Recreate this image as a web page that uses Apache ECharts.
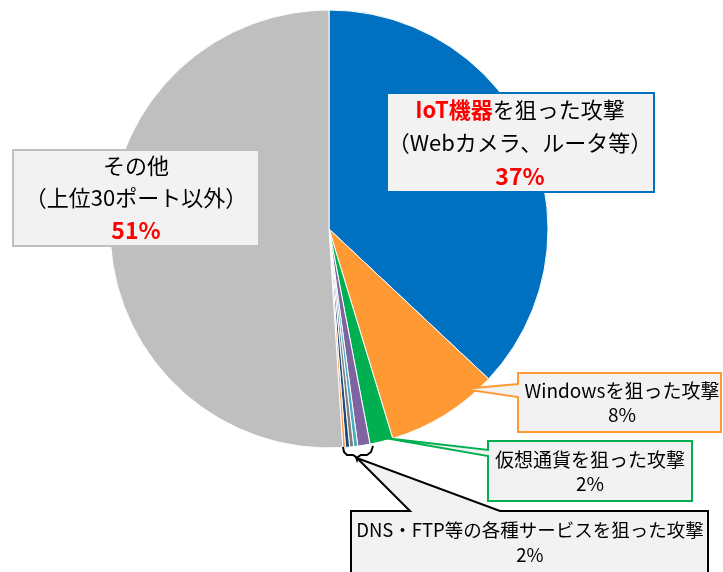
<!DOCTYPE html>
<html>
<head>
<meta charset="utf-8">
<script src="https://cdn.jsdelivr.net/npm/echarts@6/dist/echarts.min.js"></script>
<style>
html,body{margin:0;padding:0;background:#fff;}
#chart{width:723px;height:572px;}
</style>
</head>
<body>
<div id="chart"></div>
<script>
// ---- data ----
var categories = ['IoT機器を狙った攻撃', 'Windowsを狙った攻撃', '仮想通貨を狙った攻撃', 'サービスA', 'サービスB', 'サービスC', 'サービスD', 'サービスE', 'その他'];
var values = [37.0, 8.3, 1.7, 0.9, 0.3, 0.3, 0.3, 0.2, 51.0];
var colors = ['#0070C0', '#FF9933', '#00B050', '#8064A2', '#4BACC6', '#7F7F7F', '#1F497D', '#F79646', '#BFBFBF'];
var pctLabels = ['37%', '8%', '2%', '2%', '51%'];

var FONT = '"Noto Sans CJK JP", "Noto Sans", sans-serif';
var chart = echarts.init(document.getElementById('chart'));

var pieData = categories.map(function (c, i) {
  return { name: c, value: values[i], itemStyle: { color: colors[i] } };
});

function box(points, stroke) {
  return { type: 'polygon', z: 10, shape: { points: points },
    style: { fill: '#F2F2F2', stroke: stroke, lineWidth: 2 } };
}
function txt(x, y, text, rich) {
  return { type: 'text', z: 11, x: x, y: y,
    style: { text: text, align: 'center', verticalAlign: 'middle', fontFamily: FONT, fontSize: 18, fill: '#000', rich: rich, lineHeight: 24 } };
}

var graphics = [
  // IoT box
  box([[387,93],[654,93],[654,192],[387,192]], '#0070C0'),
  txt(520, 143, '{r|IoT機器}{b|を狙った攻撃}\n{b|（Webカメラ、ルータ等）}\n{p|' + pctLabels[0] + '}', {
    r: { fontFamily: FONT, fontSize: 22, fontWeight: 'bold', fill: '#FF0000', lineHeight: 33 },
    b: { fontFamily: FONT, fontSize: 22, fill: '#000', lineHeight: 33 },
    p: { fontFamily: FONT, fontSize: 23, fontWeight: 'bold', fill: '#FF0000', lineHeight: 33 }
  }),
  // Others box
  box([[13,150],[259,150],[259,246],[13,246]], '#BFBFBF'),
  txt(136, 198, '{b|その他}\n{b|（上位30ポート以外）}\n{p|' + pctLabels[4] + '}', {
    b: { fontFamily: FONT, fontSize: 22, fill: '#000', lineHeight: 32 },
    p: { fontFamily: FONT, fontSize: 23, fontWeight: 'bold', fill: '#FF0000', lineHeight: 32 }
  }),
  // Windows box
  box([[518,373],[721,373],[721,432],[518,432],[518,397],[463,389],[518,384]], '#FF9933'),
  txt(622, 403, '{b|Windowsを狙った攻撃}\n{b|' + pctLabels[1] + '}', {
    b: { fontFamily: FONT, fontSize: 19, fill: '#000', lineHeight: 24 }
  }),
  // Crypto box
  box([[488,441],[692,441],[692,501],[488,501],[488,456],[385,438],[488,450]], '#00B050'),
  txt(590, 472, '{b|仮想通貨を狙った攻撃}\n{b|' + pctLabels[2] + '}', {
    b: { fontFamily: FONT, fontSize: 19, fill: '#000', lineHeight: 24 }
  }),
  // DNS box
  box([[351,511],[410,511],[357,458],[500,511],[708,511],[708,574],[351,574]], '#000000'),
  txt(530, 542, '{b|DNS・FTP等の各種サービスを狙った攻撃}\n{b|' + pctLabels[3] + '}', {
    b: { fontFamily: FONT, fontSize: 18.5, fill: '#000', lineHeight: 25 }
  }),
  // brace
  { type: 'polyline', z: 12, shape: { points: [[343,447],[344,452],[347,455],[353,455],[356,457],[357,460],[358,457],[361,455],[367,455],[371,452],[373,446]] },
    style: { fill: 'none', stroke: '#000', lineWidth: 2 } }
];

chart.setOption({
  backgroundColor: '#fff',
  animation: false,
  series: [{
    type: 'pie',
    center: [329, 229],
    radius: [0, 219],
    startAngle: 90,
    clockwise: true,
    label: { show: false },
    labelLine: { show: false },
    itemStyle: { borderColor: '#fff', borderWidth: 1 },
    emphasis: { disabled: true },
    data: pieData
  }],
  graphic: graphics
});
</script>
</body>
</html>
